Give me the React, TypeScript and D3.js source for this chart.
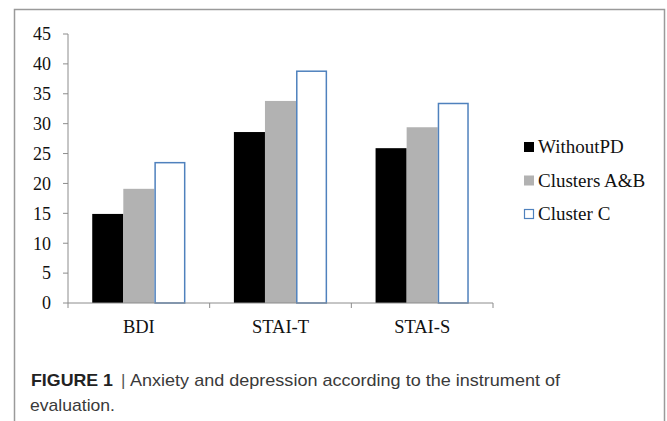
import React from "react";
import * as d3 from "d3";

const categories = ["BDI", "STAI-T", "STAI-S"];
const seriesNames = ["WithoutPD", "Clusters A&B", "Cluster C"];
const withoutPD = [14.9, 28.6, 25.9];
const clustersAB = [19.1, 33.8, 29.4];
const clusterC = [23.6, 38.9, 33.5];
const yTicks = [0, 5, 10, 15, 20, 25, 30, 35, 40, 45];

const seriesValues = [withoutPD, clustersAB, clusterC];
const fills = ["#000000", "#b2b2b2", "#ffffff"];
const strokes = ["none", "none", "#4f81bd"];

const W = 667;
const H = 421;
const left = 68;
const right = 493;
const top = 34;
const bottom = 303;

export default function App() {
  const x = d3.scaleBand<string>().domain(categories).range([left, right]).padding(0);
  const xs = d3
    .scaleBand<string>()
    .domain(seriesNames)
    .range([0, x.bandwidth()])
    .paddingInner(0)
    .paddingOuter(0.78);
  const y = d3.scaleLinear().domain([0, 45]).range([bottom, top]);
  const serif = "'Liberation Serif', 'Times New Roman', serif";
  const sans = "'Liberation Sans', Arial, sans-serif";
  const axisColor = "#8c8c8c";
  const catTicks = [...categories.map((c) => x(c) as number), right];

  return (
    <svg
      width={W}
      height={H}
      style={{ position: "absolute", left: 0, top: 0 }}
      viewBox={`0 0 ${W} ${H}`}
    >
      <rect x={0} y={0} width={W} height={H} fill="#fff" />
      {/* outer frame */}
      <path d={`M14.5,${H} V9.5 H664.5 V${H}`} fill="none" stroke="#9a9a9a" strokeWidth={1.5} />

      {/* bars */}
      {categories.map((c, ci) => (
        <g key={c} transform={`translate(${x(c)},0)`}>
          {seriesNames.map((s, si) => {
            const v = seriesValues[si][ci];
            const bx = xs(s) as number;
            const bw = xs.bandwidth();
            const isOutline = strokes[si] !== "none";
            return (
              <rect
                key={s}
                x={isOutline ? bx + 0.75 : bx}
                y={isOutline ? y(v) + 0.75 : y(v)}
                width={isOutline ? bw - 1.5 : bw}
                height={isOutline ? y(0) - y(v) - 0.75 : y(0) - y(v)}
                fill={fills[si]}
                stroke={strokes[si]}
                strokeWidth={isOutline ? 1.5 : 0}
              />
            );
          })}
        </g>
      ))}

      {/* y axis */}
      <line x1={left} x2={left} y1={top} y2={bottom} stroke={axisColor} strokeWidth={1} />
      {yTicks.map((t) => (
        <g key={t}>
          <line x1={left - 5} x2={left} y1={y(t)} y2={y(t)} stroke={axisColor} strokeWidth={1} />
          <text
            x={51}
            y={y(t)}
            dy="0.35em"
            textAnchor="end"
            fontFamily={serif}
            fontSize={18}
            fill="#111"
          >
            {t}
          </text>
        </g>
      ))}

      {/* x axis */}
      <line x1={left} x2={right} y1={bottom} y2={bottom} stroke={axisColor} strokeWidth={1} />
      {catTicks.map((tx, i) => (
        <line key={i} x1={tx} x2={tx} y1={bottom} y2={bottom + 5} stroke={axisColor} strokeWidth={1} />
      ))}
      {categories.map((c) => (
        <text
          key={c}
          x={(x(c) as number) + x.bandwidth() / 2}
          y={333}
          textAnchor="middle"
          fontFamily={serif}
          fontSize={18.5}
          fill="#111"
        >
          {c}
        </text>
      ))}

      {/* legend */}
      {seriesNames.map((s, i) => {
        const baseY = 153 + i * 33.5;
        const isOutline = strokes[i] !== "none";
        return (
          <g key={s}>
            <rect
              x={isOutline ? 524.5 : 524}
              y={isOutline ? baseY - 10.5 : baseY - 11}
              width={isOutline ? 9 : 10}
              height={isOutline ? 9 : 10}
              fill={fills[i]}
              stroke={strokes[i]}
              strokeWidth={isOutline ? 1.2 : 0}
            />
            <text x={538} y={baseY} fontFamily={serif} fontSize={19} fill="#111">
              {s}
            </text>
          </g>
        );
      })}

      {/* caption */}
      <text
        x={31}
        y={386}
        fontFamily={sans}
        fontSize={17}
        fontWeight="bold"
        fill="#222"
        textLength={82}
        lengthAdjust="spacingAndGlyphs"
      >
        FIGURE 1
      </text>
      <text x={121} y={386} fontFamily={sans} fontSize={17} fill="#555">
        |
      </text>
      <text
        x={130}
        y={386}
        fontFamily={sans}
        fontSize={17}
        fill="#3a3a3a"
        textLength={430}
        lengthAdjust="spacingAndGlyphs"
      >
        Anxiety and depression according to the instrument of
      </text>
      <text
        x={30}
        y={411}
        fontFamily={sans}
        fontSize={17}
        fill="#3a3a3a"
        textLength={85}
        lengthAdjust="spacingAndGlyphs"
      >
        evaluation.
      </text>
    </svg>
  );
}
